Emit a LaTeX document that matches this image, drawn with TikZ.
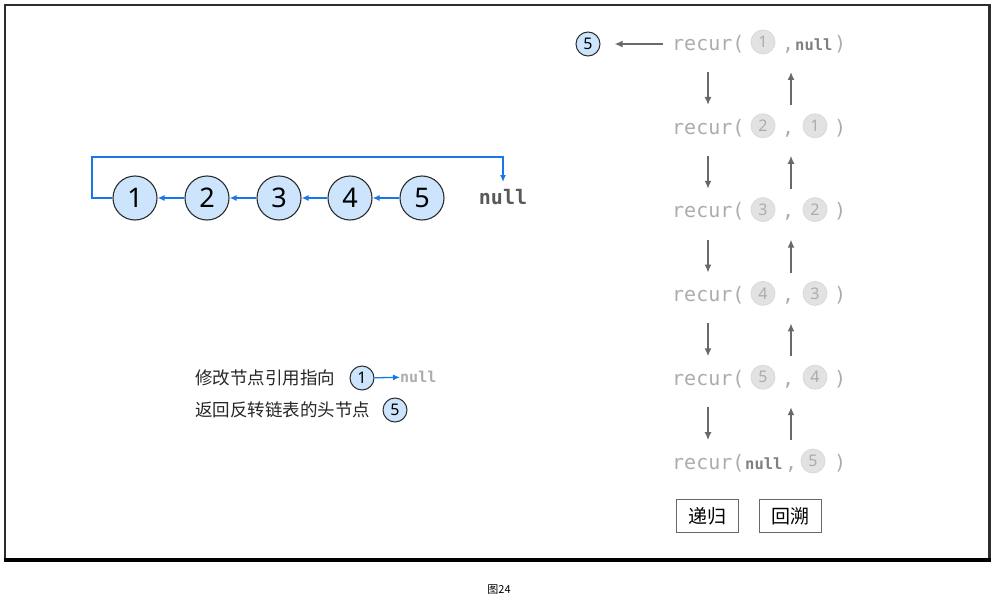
\documentclass[tikz,border=0pt]{standalone}
\usepackage{fontspec}
\setmainfont{Noto Sans}
\setmonofont{DejaVu Sans Mono}
\newfontfamily\cjk{Noto Sans CJK SC}
\usetikzlibrary{positioning, arrows.meta, calc}

\definecolor{nodeblue}{RGB}{204,228,252}
\definecolor{linkblue}{RGB}{25,118,230}
\definecolor{recurgray}{RGB}{172,172,172}
\definecolor{nullgray}{RGB}{128,128,128}
\definecolor{ballgray}{RGB}{226,226,226}
\definecolor{arrowgray}{RGB}{105,105,105}
\definecolor{framegray}{RGB}{45,45,45}

\tikzset{
    listnode/.style={circle, draw=framegray, line width=1.1pt, fill=nodeblue,
        minimum size=44pt, inner sep=0pt, font=\fontsize{27}{27}\selectfont},
    smallnode/.style={circle, draw=framegray, line width=1pt, fill=nodeblue,
        minimum size=24pt, inner sep=0pt, font=\fontsize{16}{16}\selectfont},
    ghostnode/.style={circle, draw=gray!30, line width=0.8pt, fill=ballgray, text=recurgray,
        minimum size=24pt, inner sep=0pt, font=\fontsize{16}{16}\selectfont},
    recurtext/.style={text=recurgray, font=\ttfamily\fontsize{20}{20}\selectfont, inner sep=0pt},
    nulltext/.style={text=nullgray, font=\ttfamily\bfseries\fontsize{15.5}{15.5}\selectfont, inner sep=0pt},
    cjktext/.style={text=black!85, font=\cjk\fontsize{17.5}{17.5}\selectfont, inner sep=0pt},
    link/.style={linkblue, line width=1.6pt, -{Latex[length=7pt,width=6pt]}},
    callarrow/.style={arrowgray, line width=2pt, -{Latex[length=8pt,width=7pt]}},
    tag/.style={draw=arrowgray, line width=1pt, minimum width=62pt, minimum height=33pt,
        inner sep=0pt, font=\cjk\fontsize{19}{19}\selectfont},
}

\begin{document}
\begin{tikzpicture}[x=1pt, y=-1pt]
    \useasboundingbox (0,0) rectangle (994,602);

    % frame and caption
    \draw[framegray, line width=2pt] (4.5,5) rectangle (989,559);
    \draw[framegray, line width=3pt] (989,4) -- (989,560);
    \draw[black, line width=4pt] (3.5,559.5) -- (990.5,559.5);
    \node[font=\cjk\fontsize{11}{11}\selectfont] (caption) at (499,590) {图24};

    % reversed list
    \foreach \i/\x in {1/135,2/207,3/279,4/350,5/422}
        \node[listnode] (n\i) at (\x,198) {\i};
    \node[nulltext, text=arrowgray!85!black, font=\ttfamily\bfseries\fontsize{20}{20}\selectfont]
        (null) at (503,197) {null};
    \foreach \i/\j in {2/1,3/2,4/3,5/4}
        \draw[link] (n\i) -- (n\j);
    \draw[link, shorten >=7pt] (n1.west) -| (92,157) -| (null.north);

    % legend
    \node[cjktext, anchor=west] (legend1) at (195,378) {修改节点引用指向};
    \node[smallnode] (key1) at (362,378) {1};
    \node[nulltext, text=recurgray, font=\ttfamily\bfseries\fontsize{15}{15}\selectfont, anchor=west]
        (keynull) at (400,377) {null};
    \draw[link, line width=1.3pt] (key1) -- (keynull);
    \node[cjktext, anchor=west] (legend2) at (195,410) {返回反转链表的头节点};
    \node[smallnode] (key5) at (395,410) {5};

    % recur(1, null) and the returned head
    \node[recurtext, anchor=base west] (call1) at (672,50.3) {recur(};
    \node[ghostnode] (a1) at (763,42) {1};
    \node[recurtext, anchor=base west] (c1) at (782,50.3) {,};
    \node[nulltext, anchor=base west] (b1) at (795,50.3) {null};
    \node[recurtext, anchor=base west] (e1) at (834,50.3) {)};
    \node[smallnode] (top5) at (588,44) {5};
    \draw[callarrow] ([xshift=-9pt]call1.west) -- ([xshift=14pt]top5.east |- call1.west);

    % recur(i, i-1)
    \foreach \k/\y/\a/\b in {2/127.8/2/1, 3/211.6/3/2, 4/295.4/4/3, 5/379.2/5/4} {
        \node[recurtext, anchor=base west] (call\k) at (672,\y+6.3) {recur(};
        \node[ghostnode] (a\k) at (763,\y-2) {\a};
        \node[recurtext, anchor=base west] (c\k) at (782,\y+6.3) {,};
        \node[ghostnode] (b\k) at (815,\y-2) {\b};
        \node[recurtext, anchor=base west] (e\k) at (834,\y+6.3) {)};
    }

    % recur(null, 5)
    \node[recurtext, anchor=base west] (call6) at (672,469.3) {recur(};
    \node[nulltext, anchor=base west] (a6) at (745,469.3) {null};
    \node[recurtext, anchor=base west] (c6) at (785,469.3) {,};
    \node[ghostnode] (b6) at (813,461) {5};
    \node[recurtext, anchor=base west] (e6) at (834,469.3) {)};

    % calls go down, returns go up
    \foreach \k/\y in {1/44,2/127.8,3/211.6,4/295.4,5/379.2} {
        \coordinate (dtop\k) at (708,\y+28);
        \coordinate (dbot\k) at (708,\y+61);
        \coordinate (utop\k) at (791,\y+28);
        \coordinate (ubot\k) at (791,\y+61);
        \draw[callarrow] (dtop\k) -- (dbot\k);
        \draw[callarrow] (ubot\k) -- (utop\k);
    }

    % tags
    \node[tag] (descend) at (707,516) {递归};
    \node[tag] (ascend) at (790,516) {回溯};

\end{tikzpicture}
\end{document}
